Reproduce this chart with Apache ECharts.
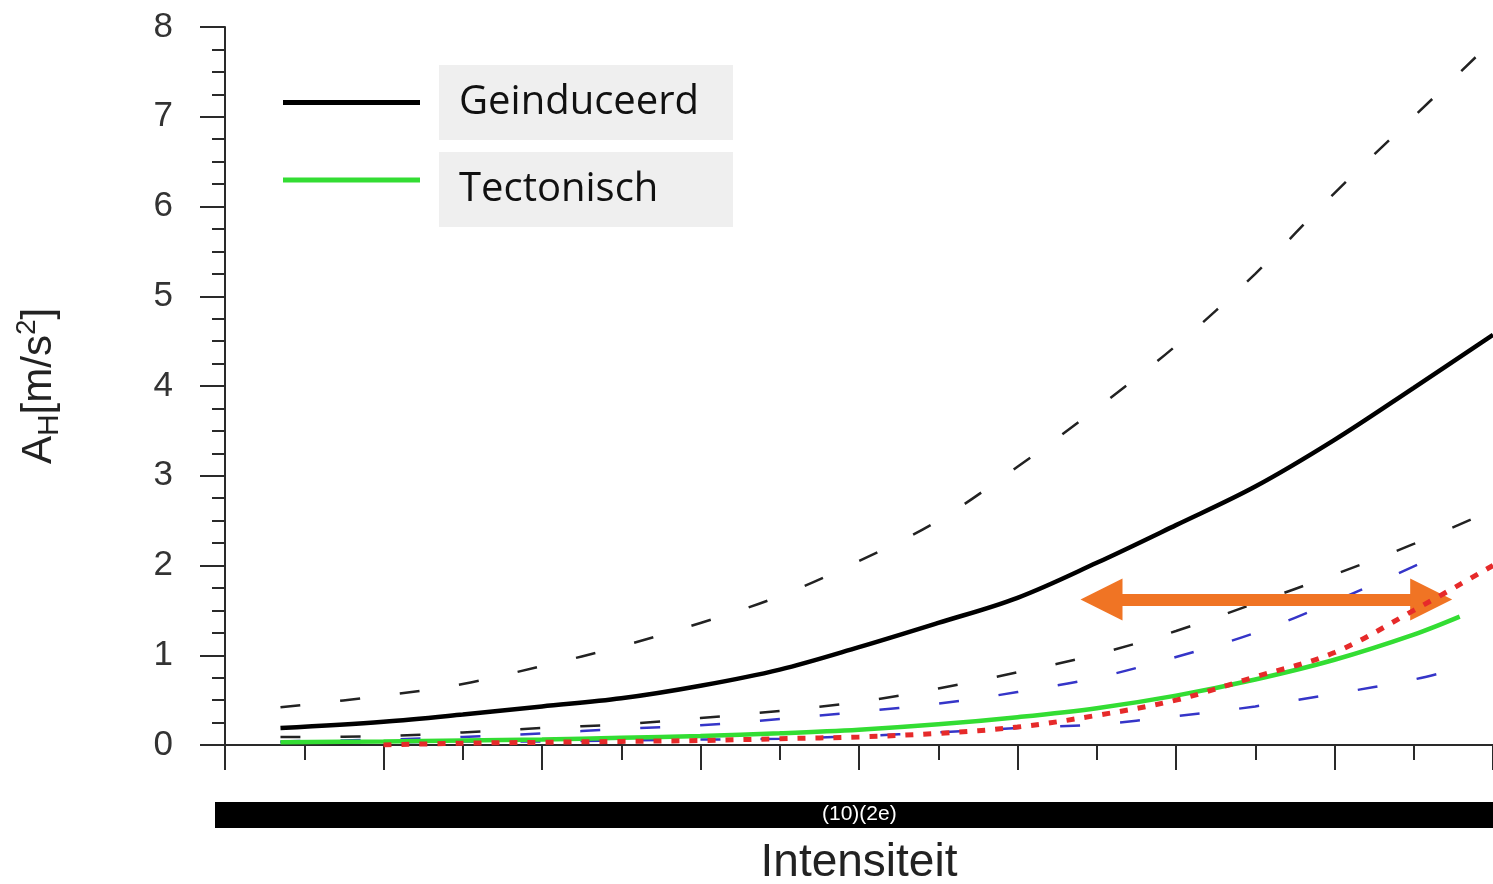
<!DOCTYPE html>
<html>
<head>
<meta charset="utf-8">
<script src="https://cdn.jsdelivr.net/npm/echarts@6/dist/echarts.min.js"></script>
<style>
html,body{margin:0;padding:0;background:#fff;}
#chart{width:1493px;height:884px;}
</style>
</head>
<body>
<div id="chart"></div>
<script>
// Intensity positions (x axis units, labels hidden by the black bar)
const xMain = [0.35, 1, 1.5, 2, 2.5, 3, 3.5, 4, 4.5, 5, 5.5, 6, 6.5, 7, 7.5, 8];
const xTect = [0.35, 1, 1.5, 2, 2.5, 3, 3.5, 4, 4.5, 5, 5.5, 6, 6.5, 7, 7.5, 7.79];
const xTectUpper = [0.35, 1, 1.5, 2, 2.5, 3, 3.5, 4, 4.5, 5, 5.5, 6, 6.5, 7, 7.6];
const xTectLower = [0.35, 1, 1.5, 2, 2.5, 3, 3.5, 4, 4.5, 5, 5.5, 6, 6.5, 7, 7.5, 7.8];
const xRed = [1, 1.5, 2, 2.5, 3, 3.5, 4, 4.5, 5, 5.5, 6, 6.5, 7, 7.5, 8];

// A_H values [m/s^2]
const geinduceerd      = [0.19, 0.26, 0.34, 0.43, 0.52, 0.66, 0.84, 1.09, 1.36, 1.64, 2.03, 2.45, 2.88, 3.40, 3.98, 4.57];
const geinduceerdUpper = [0.42, 0.55, 0.68, 0.88, 1.10, 1.36, 1.66, 2.05, 2.50, 3.10, 3.75, 4.45, 5.25, 6.15, 7.00, 7.85];
const geinduceerdLower = [0.09, 0.10, 0.14, 0.19, 0.23, 0.30, 0.38, 0.48, 0.63, 0.81, 1.01, 1.27, 1.58, 1.90, 2.24, 2.62];
const tectonisch       = [0.03, 0.04, 0.05, 0.06, 0.08, 0.10, 0.13, 0.17, 0.23, 0.31, 0.41, 0.55, 0.73, 0.95, 1.23, 1.43];
const tectonischUpper  = [0.04, 0.06, 0.09, 0.13, 0.18, 0.22, 0.29, 0.37, 0.46, 0.59, 0.75, 0.98, 1.25, 1.60, 2.07];
const tectonischLower  = [0.03, 0.03, 0.04, 0.04, 0.05, 0.06, 0.07, 0.10, 0.14, 0.19, 0.23, 0.32, 0.43, 0.57, 0.73, 0.86];
const redDotted        = [0.00, 0.02, 0.03, 0.04, 0.05, 0.07, 0.09, 0.13, 0.20, 0.33, 0.50, 0.76, 1.03, 1.50, 2.00];

// Orange double arrow annotation (data space)
const arrowX = [5.53, 7.61];
const arrowY = 1.62;

const legendNames = ['Geinduceerd', 'Tectonisch'];
const barText = '(10)(2e)';

function pairs(xs, ys) { return xs.map((x, i) => [x, ys[i]]); }

const chart = echarts.init(document.getElementById('chart'));
const axisColor = '#2a2a2a';

const legendRich = {
  sp: { width: 14 },
  top: { height: 19, lineHeight: 19 },
  box: {
    width: 274, height: 75, lineHeight: 75,
    padding: [0, 0, 0, 20],
    backgroundColor: '#efefef',
    fontFamily: 'Open Sans', fontSize: 40, color: '#111'
  }
};

chart.setOption({
  backgroundColor: '#ffffff',
  animation: false,
  grid: { left: 225, right: 0, top: 27, bottom: 139, outerBoundsMode: 'none', containLabel: false },
  legend: [{
    data: [legendNames[0]],
    left: 278, top: 60,
    itemWidth: 137, itemHeight: 5, icon: 'rect', selectedMode: false,
    formatter: name => '{sp|}{box|' + name + '}',
    textStyle: { rich: legendRich }
  }, {
    data: [legendNames[1]],
    left: 278, top: 128,
    itemWidth: 137, itemHeight: 5, icon: 'rect', selectedMode: false,
    formatter: name => '{top|}\n{sp|}{box|' + name + '}',
    textStyle: { rich: legendRich }
  }],
  xAxis: [{
    type: 'value', min: 0, max: 8, interval: 1,
    name: 'Intensiteit', nameLocation: 'middle', nameGap: 95,
    nameTextStyle: { fontFamily: 'Liberation Sans', fontSize: 46, color: '#222' },
    axisLine: { show: true, onZero: false, lineStyle: { color: axisColor, width: 2 } },
    axisTick: { show: true, length: 25, lineStyle: { color: axisColor, width: 2 } },
    minorTick: { show: true, splitNumber: 2, length: 15, lineStyle: { color: axisColor, width: 2 } },
    axisLabel: { show: false },
    splitLine: { show: false }
  }, {
    type: 'value', min: 0, max: 8, position: 'top',
    axisLine: { show: true, lineStyle: { color: axisColor, width: 2 } },
    axisTick: { show: false }, axisLabel: { show: false }, splitLine: { show: false }
  }],
  yAxis: {
    type: 'value', min: 0, max: 8, interval: 1,
    name: '{a|A}{sub|H}{a|[m/s}{sup|2}{a|]}',
    nameLocation: 'middle', nameRotate: 90, nameGap: 160,
    nameTextStyle: {
      rich: {
        a: { fontFamily: 'Liberation Sans', fontSize: 42, color: '#222', lineHeight: 52 },
        sub: { fontFamily: 'Liberation Sans', fontSize: 30, color: '#222', verticalAlign: 'bottom', lineHeight: 30 },
        sup: { fontFamily: 'Liberation Sans', fontSize: 28, color: '#222', verticalAlign: 'top', lineHeight: 28 }
      }
    },
    axisLine: { show: true, lineStyle: { color: axisColor, width: 2 } },
    axisTick: { show: true, length: 25, lineStyle: { color: axisColor, width: 2 } },
    minorTick: { show: true, splitNumber: 4, length: 13, lineStyle: { color: axisColor, width: 2 } },
    axisLabel: { margin: 52, fontFamily: 'Liberation Sans', fontSize: 35, color: '#333' },
    splitLine: { show: false }
  },
  series: [
    { name: 'Tectonisch ondergrens', type: 'line', data: pairs(xTectLower, tectonischLower), showSymbol: false, smooth: 0.35,
      lineStyle: { color: '#3535c8', width: 2.5, type: [20, 40] }, z: 2 },
    { name: 'Tectonisch bovengrens', type: 'line', data: pairs(xTectUpper, tectonischUpper), showSymbol: false, smooth: 0.35,
      lineStyle: { color: '#3535c8', width: 2.5, type: [20, 40] }, z: 2 },
    { name: 'Geinduceerd ondergrens', type: 'line', data: pairs(xMain, geinduceerdLower), showSymbol: false, smooth: 0.35,
      lineStyle: { color: '#222', width: 2.5, type: [20, 40] }, z: 3 },
    { name: 'Geinduceerd bovengrens', type: 'line', data: pairs(xMain, geinduceerdUpper), showSymbol: false, smooth: 0.35,
      lineStyle: { color: '#222', width: 2.5, type: [20, 40] }, z: 3 },
    { name: 'Tectonisch', type: 'line', data: pairs(xTect, tectonisch), showSymbol: false, smooth: 0.35,
      itemStyle: { color: '#33dd33' }, lineStyle: { color: '#33dd33', width: 4.5 }, z: 4 },
    { name: 'Rood', type: 'line', data: pairs(xRed, redDotted), showSymbol: false, smooth: 0.35,
      lineStyle: { color: '#e62a2a', width: 5, type: [8, 10] }, z: 5 },
    { name: 'Geinduceerd', type: 'line', data: pairs(xMain, geinduceerd), showSymbol: false, smooth: 0.35,
      itemStyle: { color: '#000' }, lineStyle: { color: '#000', width: 4.5 }, z: 6 },
    { name: 'Pijl', type: 'line', data: [], z: 7,
      markLine: {
        silent: true, animation: false,
        symbol: ['triangle', 'triangle'], symbolSize: [42, 42],
        label: { show: false },
        lineStyle: { color: '#f07424', width: 12, type: 'solid' },
        itemStyle: { color: '#f07424' },
        data: [[{ coord: [arrowX[0], arrowY] }, { coord: [arrowX[1], arrowY] }]]
      } }
  ],
  graphic: [
    { type: 'rect', left: 215, top: 802, shape: { width: 1278, height: 26 }, style: { fill: '#000' }, z: 100 },
    { type: 'text', left: 822, top: 804, style: { text: barText, fill: '#fff', font: '21px "Liberation Sans"' }, z: 101 }
  ]
});
</script>
</body>
</html>
